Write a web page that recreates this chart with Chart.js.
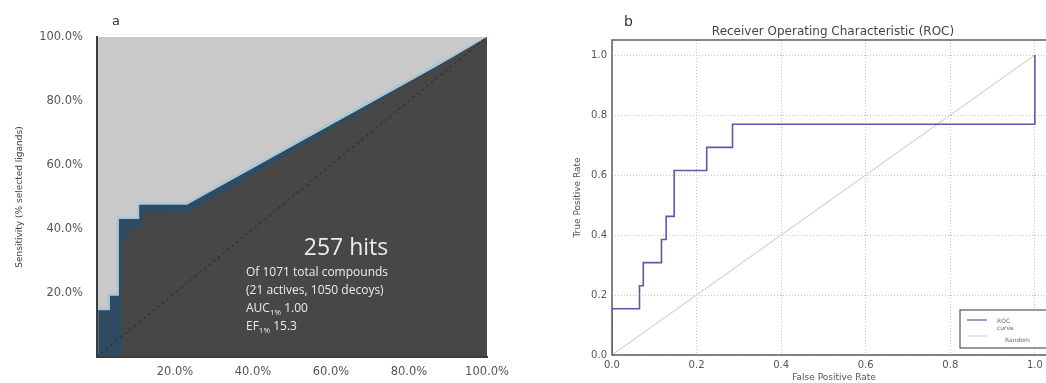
<!DOCTYPE html>
<html>
<head>
<meta charset="utf-8">
<script src="https://cdn.jsdelivr.net/npm/chart.js@4/dist/chart.umd.min.js"></script>
<style>
html, body { margin: 0; padding: 0; background: #fff; width: 1046px; height: 383px; overflow: hidden; }
#ca { position: absolute; left: 0; top: 0; }
#cb { position: absolute; left: 560px; top: 0; }
</style>
</head>
<body>
<canvas id="ca" width="530" height="383"></canvas>
<canvas id="cb" width="510" height="383"></canvas>
<script>
// panel a - enrichment curve (% of compounds screened vs % ligands found)
var hit_x = [0, 0, 3, 3, 5.3, 5.3, 10.5, 10.5, 23, 100];
var hit_y = [0, 15, 15, 19.5, 19.5, 43.5, 43.5, 48, 48, 100];
var core_x = [6, 6, 8, 8, 11.5, 11.5, 24, 100];
var core_y = [0, 36, 36, 40, 40, 45, 45.5, 100];
var diag_x = [0, 100];
var diag_y = [0, 100];
var pct_ticks = [0, 20, 40, 60, 80, 100];

// panel b - ROC
var fpr = [0, 0, 0.065, 0.065, 0.074, 0.074, 0.117, 0.117, 0.128, 0.128, 0.147, 0.147, 0.224, 0.224, 0.285, 0.285, 1.0, 1.0];
var tpr = [0, 0.154, 0.154, 0.231, 0.231, 0.308, 0.308, 0.385, 0.385, 0.462, 0.462, 0.615, 0.615, 0.692, 0.692, 0.769, 0.769, 1.0];
var rand_x = [0, 1];
var rand_y = [0, 1];
var roc_ticks = [0, 0.2, 0.4, 0.6, 0.8, 1.0];
var roc_labels = [['ROC', 'curve'], ['Random']];

var FONT = "'DejaVu Sans', sans-serif";

function pts(xs, ys) {
    var out = [];
    for (var i = 0; i < xs.length; i++) {
        out.push({x: xs[i], y: ys[i]});
    }
    return out;
}

function fixed_ticks(values) {
    return function(scale) {
        scale.ticks = values.map(function(v) { return {value: v}; });
    };
}

// light grey backdrop + annotation text for panel a
var panel_a_plugin = {
    id: 'panelA',
    beforeDatasetsDraw: function(chart) {
        var ctx = chart.ctx, a = chart.chartArea;
        ctx.save();
        ctx.fillStyle = '#c9c9c9';
        ctx.fillRect(a.left, a.top, a.right - a.left, a.bottom - a.top);
        ctx.restore();
    },
    afterDraw: function(chart) {
        var ctx = chart.ctx;
        ctx.save();
        ctx.fillStyle = '#333';
        ctx.font = '13px ' + FONT;
        ctx.textBaseline = 'middle';
        ctx.fillText('a', 112, 22);

        ctx.fillStyle = '#ececec';
        ctx.font = "23px 'Open Sans', sans-serif";
        ctx.textAlign = 'center';
        ctx.fillText('257 hits', 346, 248);

        ctx.textAlign = 'left';
        var x0 = 246;
        ctx.font = "12px 'Open Sans', sans-serif";
        ctx.fillText('Of 1071 total compounds', x0, 273);
        ctx.fillText('(21 actives, 1050 decoys)', x0, 291);
        var subs = [['AUC', '1%', ' 1.00', 309], ['EF', '1%', ' 15.3', 327]];
        subs.forEach(function(s) {
            var x = x0;
            ctx.font = "12px 'Open Sans', sans-serif";
            ctx.fillText(s[0], x, s[3]);
            x += ctx.measureText(s[0]).width;
            ctx.font = "8px 'Open Sans', sans-serif";
            ctx.fillText(s[1], x, s[3] + 4);
            x += ctx.measureText(s[1]).width;
            ctx.font = "12px 'Open Sans', sans-serif";
            ctx.fillText(s[2], x, s[3]);
        });
        ctx.restore();
    }
};

// frame, legend and title for panel b
var panel_b_plugin = {
    id: 'panelB',
    afterDatasetsDraw: function(chart) {
        var ctx = chart.ctx, a = chart.chartArea;
        ctx.save();
        ctx.strokeStyle = '#5e5e5e';
        ctx.lineWidth = 1.5;
        ctx.strokeRect(a.left, a.top, a.right - a.left, a.bottom - a.top);

        // legend box, lower right
        var bx = 400, by = 310, bw = 90, bh = 38;
        ctx.fillStyle = '#fff';
        ctx.fillRect(bx, by, bw, bh);
        ctx.strokeStyle = '#555';
        ctx.lineWidth = 1.2;
        ctx.strokeRect(bx, by, bw, bh);
        var rows = [320, 336];
        chart.data.datasets.forEach(function(ds, i) {
            ctx.strokeStyle = ds.borderColor;
            ctx.lineWidth = 1.2;
            ctx.beginPath();
            ctx.moveTo(bx + 7, rows[i]);
            ctx.lineTo(bx + 27, rows[i]);
            ctx.stroke();
            ctx.fillStyle = '#666';
            ctx.font = '6px ' + FONT;
            ctx.textBaseline = 'middle';
            ctx.textAlign = 'left';
            var lab = roc_labels[i];
            if (lab.length > 1) {
                ctx.fillText(lab[0], bx + 37, rows[i] + 1);
                ctx.fillText(lab[1], bx + 37, rows[i] + 8);
            } else {
                ctx.fillText(lab[0], bx + 45, rows[i] + 4);
            }
        });
        ctx.restore();
    },
    afterDraw: function(chart) {
        var ctx = chart.ctx, a = chart.chartArea;
        ctx.save();
        ctx.fillStyle = '#333';
        ctx.font = '14px ' + FONT;
        ctx.textBaseline = 'middle';
        ctx.fillText('b', 64, 22);
        ctx.fillStyle = '#444';
        ctx.font = '12px ' + FONT;
        ctx.textAlign = 'center';
        ctx.fillText('Receiver Operating Characteristic (ROC)', (a.left + a.right) / 2 - 1, 32);
        ctx.restore();
    }
};

function draw_enrichment() {
    var ctx = document.getElementById('ca');
    return new Chart(ctx, {
        type: 'line',
        data: {
            datasets: [{
                label: 'random',
                data: pts(diag_x, diag_y),
                borderColor: '#363636',
                borderWidth: 1.5,
                borderDash: [3, 3],
                pointRadius: 0,
                fill: false,
                order: 0
            }, {
                label: 'core',
                data: pts(core_x, core_y),
                borderColor: 'rgba(0,0,0,0)',
                backgroundColor: '#474747',
                pointRadius: 0,
                fill: 'origin',
                order: 1
            }, {
                label: 'hits',
                data: pts(hit_x, hit_y),
                borderColor: '#a6c8db',
                borderWidth: 2.5,
                backgroundColor: '#2d4c61',
                pointRadius: 0,
                fill: 'origin',
                order: 2
            }]
        },
        options: {
            responsive: false,
            animation: false,
            layout: { padding: { left: 0, top: 37, right: 43, bottom: 0 } },
            plugins: { legend: { display: false }, tooltip: { enabled: false } },
            scales: {
                x: {
                    type: 'linear', min: 0, max: 100,
                    afterBuildTicks: fixed_ticks(pct_ticks),
                    afterFit: function(s) { s.height = 26; },
                    grid: { display: false },
                    border: { display: true, color: '#3c3c3c', width: 2, z: 1 },
                    ticks: {
                        padding: 0, color: '#555', font: { family: FONT, size: 11.5 },
                        maxRotation: 0,
                        callback: function(v) { return v === 0 ? '' : v.toFixed(1) + '%'; }
                    }
                },
                y: {
                    type: 'linear', min: 0, max: 100,
                    afterBuildTicks: fixed_ticks(pct_ticks),
                    afterFit: function(s) { s.width = 97; },
                    grid: { display: false },
                    border: { display: true, color: '#3c3c3c', width: 2, z: 1 },
                    title: {
                        display: true, text: 'Sensitivity (% selected ligands)',
                        color: '#444', font: { family: FONT, size: 9 },
                        padding: { top: 14, bottom: 0 }
                    },
                    ticks: {
                        padding: 6, color: '#555', font: { family: FONT, size: 11.5 },
                        callback: function(v) { return v === 0 ? '' : v.toFixed(1) + '%'; }
                    }
                }
            }
        },
        plugins: [panel_a_plugin]
    });
}

function draw_roc() {
    var ctx = document.getElementById('cb');
    var grid = { display: true, color: '#c4c4c4', lineWidth: 1, drawTicks: false };
    return new Chart(ctx, {
        type: 'line',
        data: {
            datasets: [{
                label: 'ROC curve',
                data: pts(fpr, tpr),
                borderColor: '#5a5aa6',
                borderWidth: 1.6,
                pointRadius: 0,
                fill: false
            }, {
                label: 'Random',
                data: pts(rand_x, rand_y),
                borderColor: '#d6d6cc',
                borderWidth: 1.2,
                pointRadius: 0,
                fill: false
            }]
        },
        options: {
            responsive: false,
            animation: false,
            layout: { padding: { left: 0, top: 40, right: 14, bottom: 0 } },
            plugins: { legend: { display: false }, tooltip: { enabled: false } },
            scales: {
                x: {
                    type: 'linear', min: 0, max: 1.05,
                    afterBuildTicks: fixed_ticks(roc_ticks),
                    afterFit: function(s) { s.height = 28; },
                    grid: grid,
                    border: { display: false, dash: [1, 2] },
                    title: {
                        display: true, text: 'False Positive Rate',
                        color: '#555', font: { family: FONT, size: 9 },
                        padding: { top: 0, bottom: 0 }
                    },
                    ticks: {
                        padding: 4, color: '#555', font: { family: FONT, size: 10 },
                        maxRotation: 0,
                        callback: function(v) { return v.toFixed(1); }
                    }
                },
                y: {
                    type: 'linear', min: 0, max: 1.05,
                    afterBuildTicks: fixed_ticks(roc_ticks),
                    afterFit: function(s) { s.width = 52; },
                    grid: grid,
                    border: { display: false, dash: [1, 2] },
                    title: {
                        display: true, text: 'True Positive Rate',
                        color: '#555', font: { family: FONT, size: 9 },
                        padding: { top: 12, bottom: 0 }
                    },
                    ticks: {
                        padding: 5, color: '#555', font: { family: FONT, size: 10 },
                        callback: function(v) { return v.toFixed(1); }
                    }
                }
            }
        },
        plugins: [panel_b_plugin]
    });
}

draw_enrichment();
draw_roc();
</script>
</body>
</html>
